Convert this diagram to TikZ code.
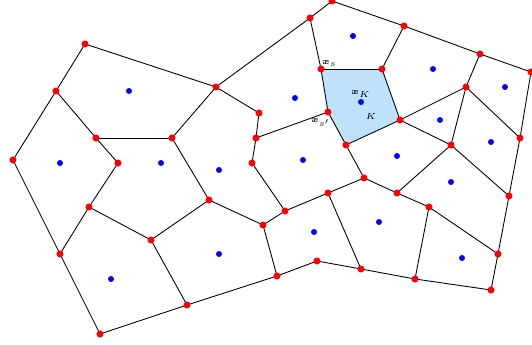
\documentclass[tikz,border=0pt]{standalone}
\usepackage{amsmath}
\usepackage{amssymb}
\usepackage{bm}
\usetikzlibrary{positioning}
\definecolor{cellblue}{RGB}{190, 226, 250}
\tikzset{
    meshedge/.style={line width=0.5pt, black},
    vertexdot/.style={fill=red},
    centerdot/.style={fill=blue},
    meshlabel/.style={font=\tiny, inner sep=0.5pt}
}

\begin{document}
\begin{tikzpicture}[x=0.02cm, y=-0.02cm]
                    \useasboundingbox (0,0) rectangle (532,345);

                    % Mesh vertices
                    \foreach \n/\x/\y in {1/85/44, 2/56/91, 3/216/87, 4/96/138, 5/172/138,
                        6/259/113, 7/256/138, 8/252/163, 9/13/160, 10/118/163,
                        11/332/1, 12/310/18, 13/404/26, 14/480/54, 15/531/72,
                        16/321/69, 17/382/69, 18/466/87, 19/328/112, 20/400/120,
                        21/346/145, 22/451/145, 23/520/138, 24/364/178, 25/328/193,
                        26/397/193, 27/429/207, 28/509/196, 29/285/211, 30/263/225,
                        31/498/254, 32/317/261, 33/277/276, 34/361/269, 35/415/279,
                        36/491/290, 37/89/207, 38/60/254, 39/151/240, 40/209/200,
                        41/187/305, 42/100/334}
                        \coordinate (p\n) at (\x,\y);

                    % Cell centres
                    \foreach \n/\x/\y in {1/129/91, 2/60/163, 3/161/163, 4/219/170,
                        5/353/36, 6/433/69, 7/505/87, 8/295/98, 9/361/102,
                        10/440/120, 11/491/142, 12/397/156, 13/303/160, 14/451/182,
                        15/379/222, 16/314/232, 17/462/258, 18/111/279, 19/219/254}
                        \coordinate (c\n) at (\x,\y);

                    % Cell K
                    \fill[cellblue] (p16) -- (p17) -- (p20) -- (p21) -- (p19) -- cycle;

                    % Edges
                    \foreach \a/\b in {1/2, 1/3, 2/9, 2/4, 4/5, 4/10, 5/3, 3/6, 3/12,
                        6/7, 7/8, 7/19, 8/29, 5/40, 9/38, 10/37, 37/38, 37/39, 39/40,
                        40/30, 39/41, 38/42, 42/41, 41/33, 12/11, 11/13, 13/14, 14/15,
                        12/16, 13/17, 14/18, 16/17, 17/20, 20/21, 21/19, 19/16, 18/20,
                        18/22, 18/23, 15/23, 20/22, 21/24, 24/25, 24/26, 26/27, 26/22,
                        27/31, 27/35, 22/28, 23/28, 28/31, 31/36, 25/29, 25/34, 29/30,
                        30/33, 33/32, 32/34, 34/35, 35/36}
                        \draw[meshedge] (p\a) -- (p\b);

                    % Dots
                    \foreach \n in {1,...,42}
                        \fill[vertexdot] (p\n) circle (2pt);
                    \foreach \n in {1,...,19}
                        \fill[centerdot] (c\n) circle (1.7pt);

                    % Labels
                    \node[meshlabel, above right=1pt and 0pt of p16] (lxs) {$\bm{x}_s$};
                    \node[meshlabel, below left=3pt and -2pt of p19] (lxsp) {$\bm{x}_{s'}$};
                    \node[meshlabel, above=2pt of c9] (lxk) {$\bm{x}_K$};
                    \node[meshlabel, below right=6pt and 2pt of c9] (lk) {$K$};
                \end{tikzpicture}
\end{document}
